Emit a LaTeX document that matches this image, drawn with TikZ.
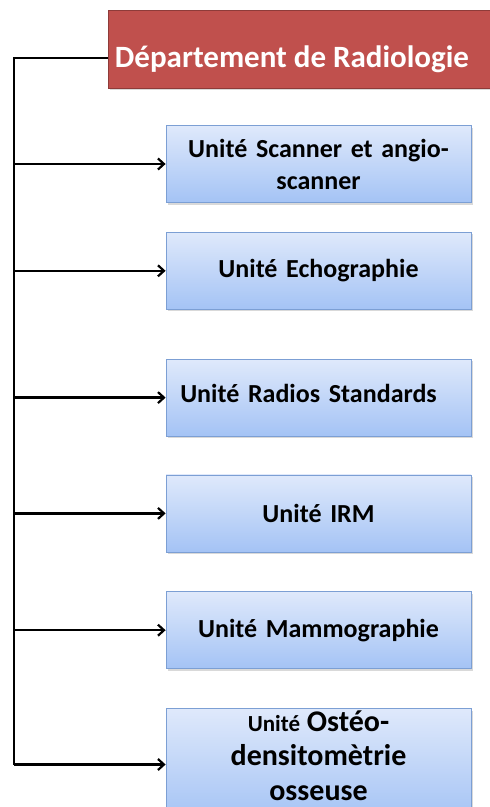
\documentclass[tikz,border=0pt]{standalone}
\usepackage{fontspec}
\setmainfont{Carlito}
\usetikzlibrary{arrows.meta, positioning, shadows}
\definecolor{clrHead}{HTML}{C0504D}
\definecolor{clrHeadLine}{HTML}{8E3B39}
\definecolor{clrUnitTop}{HTML}{DFE9FB}
\definecolor{clrUnitBot}{HTML}{A4C3F5}
\definecolor{clrUnitLine}{HTML}{7C9FD4}
\tikzset{
  head/.style = {rectangle, minimum width=388pt, minimum height=78pt, align=center,
                 font=\bfseries\fontsize{31}{36}\selectfont, text=white, draw=clrHeadLine,
                 thick, fill=clrHead, drop shadow={shadow xshift=2pt, shadow yshift=-2pt, opacity=0.3}},
  unit/.style = {rectangle, minimum width=305pt, minimum height=77pt, text width=300pt,
                 align=center, inner sep=0pt, font=\bfseries\fontsize{26}{32}\selectfont,
                 draw=clrUnitLine, thick, top color=clrUnitTop, bottom color=clrUnitBot,
                 drop shadow={shadow xshift=2pt, shadow yshift=-2pt, opacity=0.3}},
  arrow/.style = {-{Straight Barb[length=6pt, width=11pt, line width=2.2pt]}, line width=2.4pt},
  trunk/.style = {line width=2.4pt},
  label/.style = {align=center, inner sep=0pt, font=\bfseries\fontsize{30}{34.5}\selectfont},
}

\begin{document}
\begin{tikzpicture}
  \useasboundingbox (0,0) rectangle (490pt,-807pt);

  % Head of the department
  \node[head] (dept) at (302pt,-49pt) {\hspace*{-20pt}\rule{0pt}{42pt}Département de Radiologie};

  % Units, one under the other
  \node[unit] (scan)  at (318.5pt,-164pt) {Unité Scanner et angio-\\scanner};
  \node[unit, below=29pt of scan]  (echo)  {Unité Echographie};
  \node[unit, below=49pt of echo]  (radio) {\hspace*{-20pt}\raisebox{9pt}{Unité Radios Standards}};
  \node[unit, below=38pt of radio] (irm)   {Unité IRM};
  \node[unit, below=39pt of irm]   (mammo) {Unité Mammographie};
  \node[unit, below=39pt of mammo, minimum height=112pt] (osteo) {};
  \node[label] (osteoTxt) at ([yshift=9pt]osteo.center)
        {{\fontsize{23}{34.5}\selectfont Unité} Ostéo-\\densitomètrie\\osseuse};

  % Spine on the left
  \coordinate (spine) at (14pt,0);
  \draw[trunk] ([yshift=-9pt]dept.west) -| (spine |- osteo.west);

  \foreach \u in {scan, echo, radio, irm, mammo, osteo}
    \draw[arrow] (spine |- \u.west) -- (\u.west);

\end{tikzpicture}
\end{document}
